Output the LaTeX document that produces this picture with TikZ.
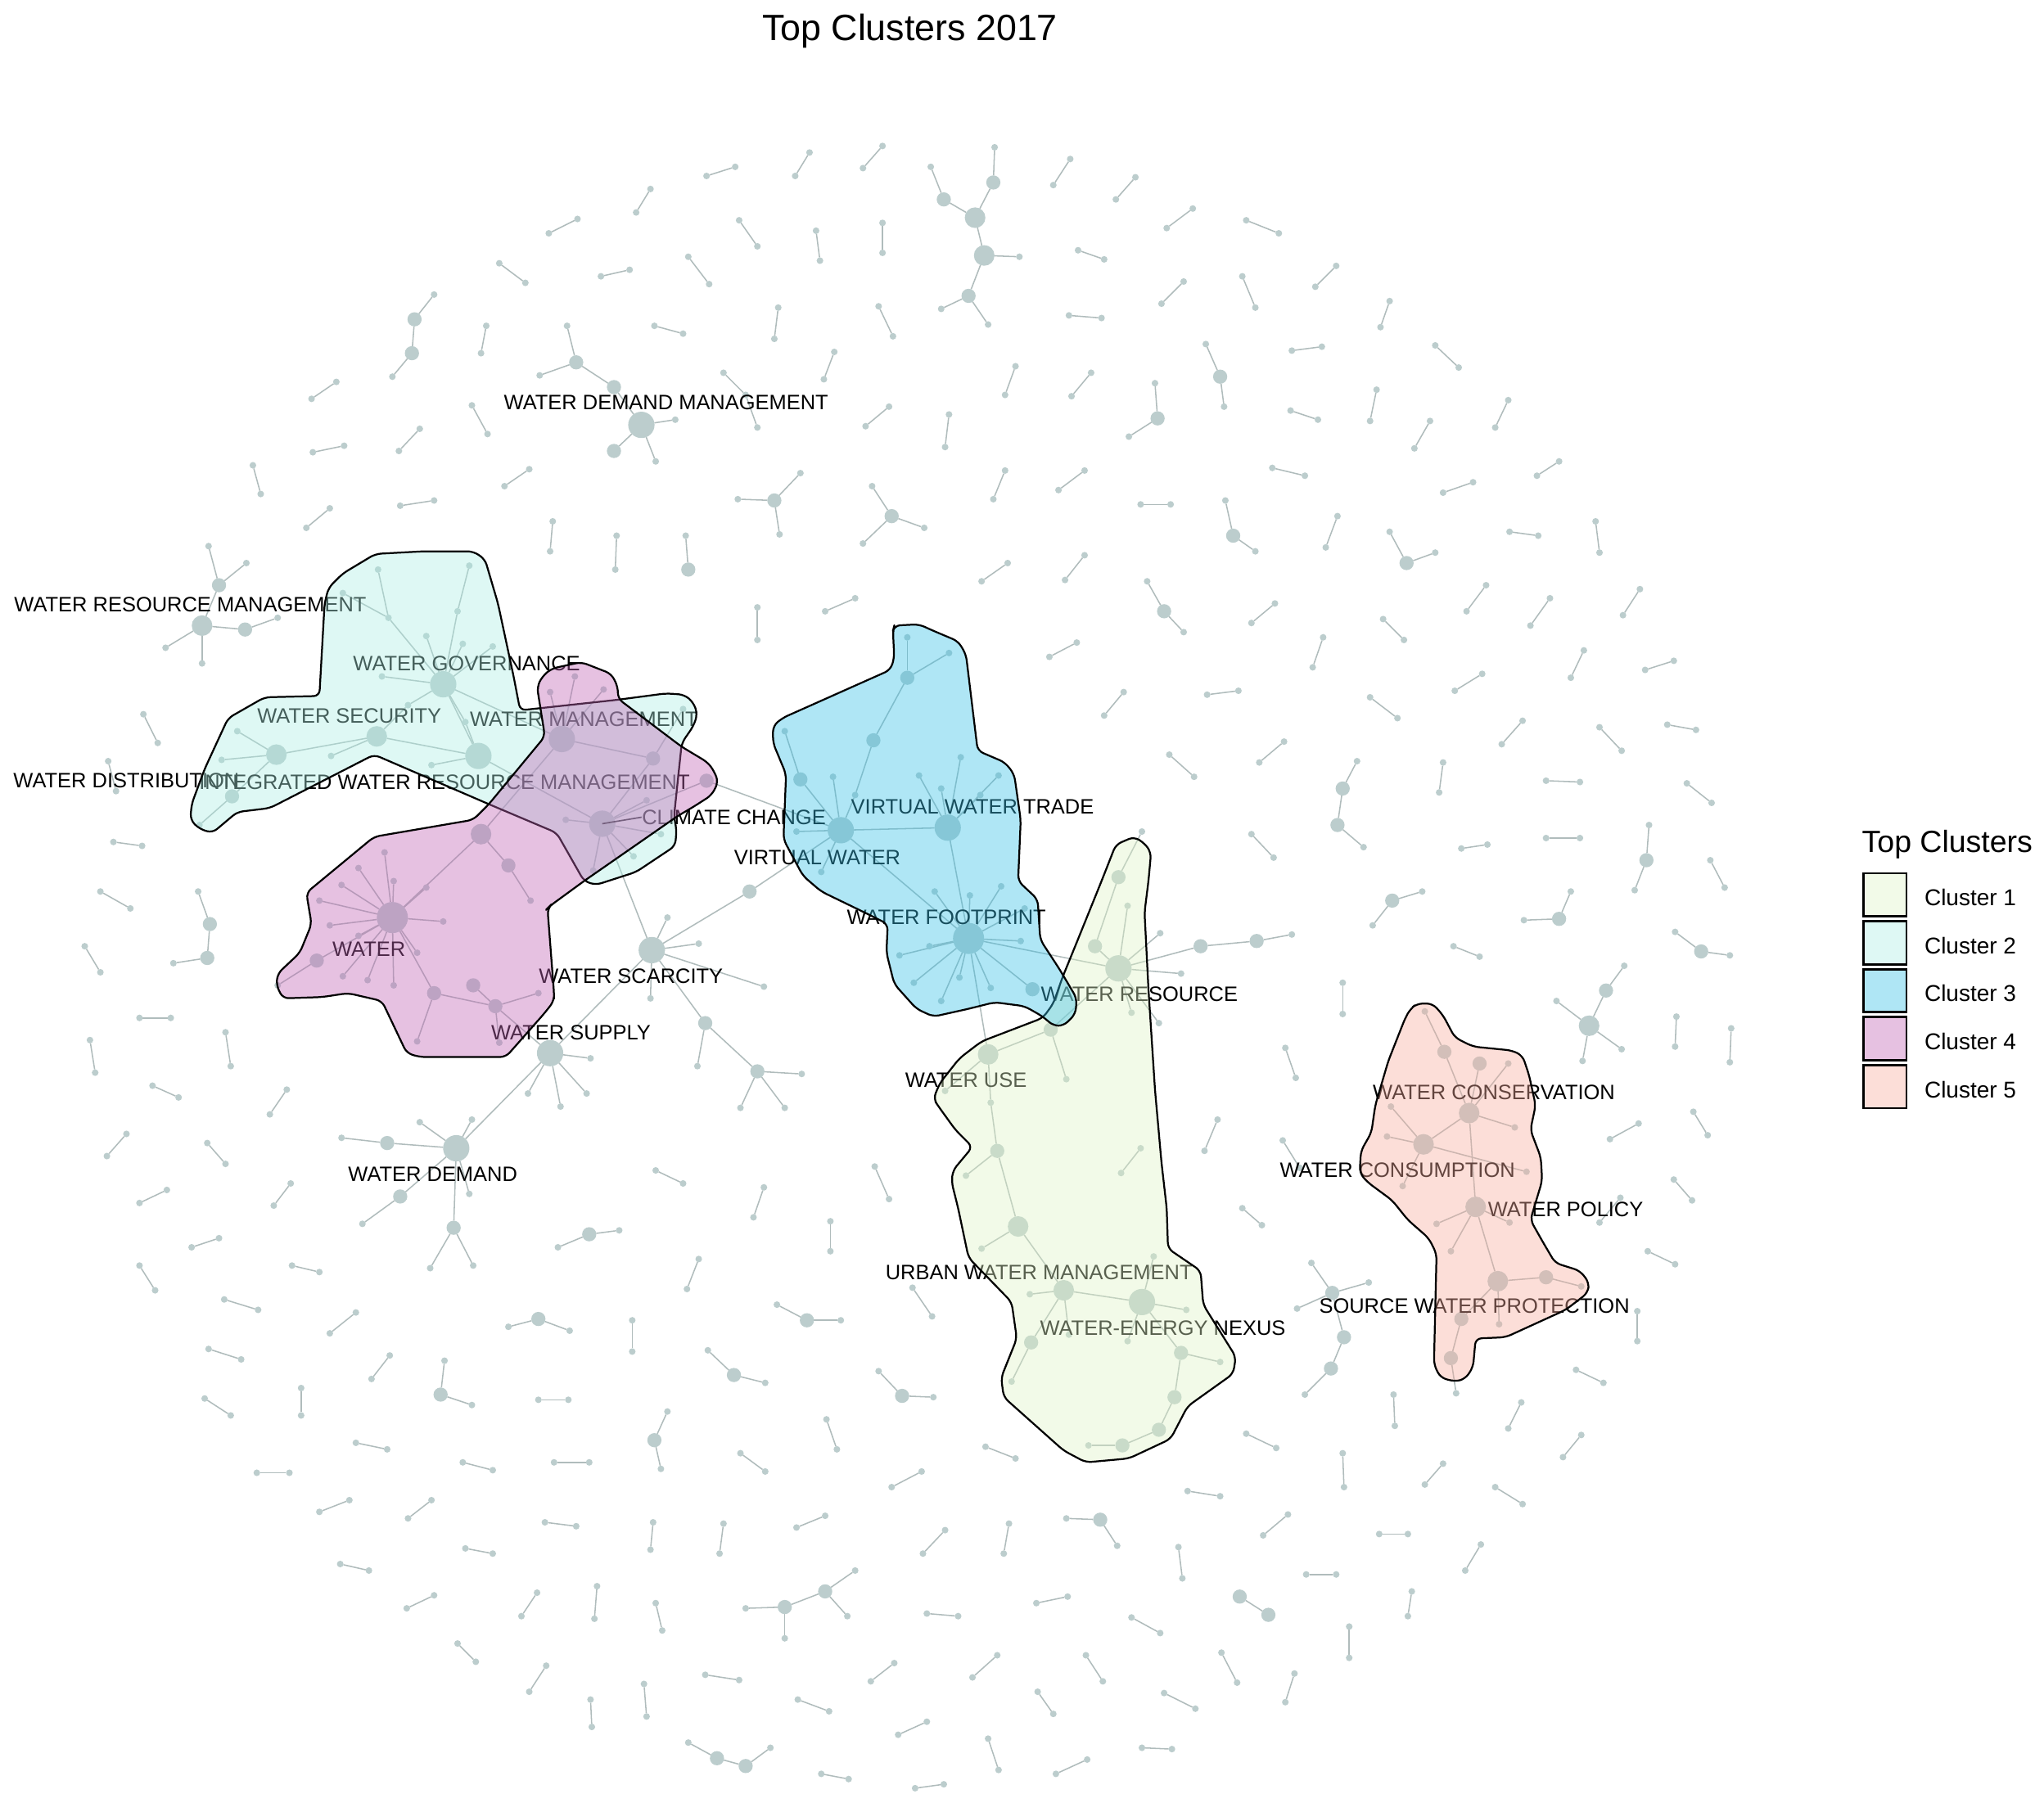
\documentclass[tikz,border=0pt]{standalone}
\usepackage{fontspec}
\setmainfont{Liberation Sans}
\pgfdeclarelayer{edgelayer}
\pgfdeclarelayer{hulllayer}
\pgfsetlayers{edgelayer,main,hulllayer}
\definecolor{nodegray}{RGB}{188,205,205}
\definecolor{edgegray}{RGB}{176,188,188}
\definecolor{hA}{RGB}{222,242,197}
\definecolor{hB}{RGB}{172,237,227}
\definecolor{hC}{RGB}{55,192,230}
\definecolor{hD}{RGB}{192,100,180}
\definecolor{hE}{RGB}{247,172,157}
\def\szS{2.9pt}\def\szM{6.2pt}\def\szL{9pt}\def\szX{11.5pt}\def\szH{13.6pt}
\begin{document}
\begin{tikzpicture}[x=0.02cm,y=-0.02cm,
  nd/.style={circle, fill=nodegray, inner sep=0pt, outer sep=0pt},
  ed/.style={draw=edgegray, line width=0.55pt},
  lbl/.style={font=\fontsize{9.1}{10}\selectfont, inner sep=0pt, text=black},
  hull/.style={draw=black, line width=0.8pt, fill opacity=0.4, rounded corners=2.5pt, line join=round},
  legbox/.style={draw=black, line width=1pt, fill opacity=0.4, minimum width=0.66cm, minimum height=0.66cm, inner sep=0pt},
  legtext/.style={font=\fontsize{10}{12}\selectfont, inner sep=0pt, anchor=base west}]
\useasboundingbox (0,0) rectangle (1568,1390);

% ---------- isolated dyads ----------
\foreach \i/\ax/\ay/\bx/\by in {
1/499/145/488/163, 2/443/168/421/179, 3/383/202/403/217, 4/483/207/461/212,
5/373/250/369/271, 6/258/293/239/306, 7/502/250/524/256, 8/362/311/374/333,
9/322/329/306/346, 10/264/342/240/347, 11/194/357/200/379, 12/406/360/387/373,
13/333/384/307/388, 14/253/390/235/405, 15/424/400/422/423, 16/473/411/472/437,
17/564/128/542/135, 18/621/117/610/135, 19/677/112/662/129, 20/821/122/808/142,
21/871/136/856/153, 22/915/160/895/175, 23/956/169/981/179, 24/1025/204/1009/220,
25/567/169/581/189, 26/626/177/629/200, 27/677/171/677/194, 28/827/192/847/199,
29/908/216/891/233, 30/953/212/963/236, 31/528/197/544/218, 32/597/236/594/260,
33/674/235/685/258, 34/820/242/845/244, 35/1014/266/991/269, 36/779/281/771/303,
37/837/286/822/304, 38/990/315/1011/322, 39/640/270/632/291, 40/682/312/664/327,
41/728/318/725/343, 42/976/359/1001/365, 43/771/361/762/383, 44/832/361/812/376,
45/875/387/898/387, 46/1026/396/1017/420, 47/773/432/753/446, 48/832/426/817/445,
49/656/459/633/469, 50/1066/231/1059/251, 51/1101/265/1119/282, 52/1056/299/1051/323,
53/1097/323/1085/344, 54/1157/307/1147/328, 55/1196/354/1179/365, 56/1130/370/1107/378,
57/1158/408/1180/411, 58/1224/400/1227/424, 59/1140/449/1125/469, 60/1189/459/1174/480,
61/1258/452/1245/472, 62/110/548/121/570, 63/83/584/89/607, 64/87/646/109/649,
65/77/684/100/697, 66/65/726/77/746, 67/107/781/131/781, 68/69/798/73/823,
69/173/792/177/818, 70/117/833/137/842, 71/220/836/207/855, 72/97/870/82/887,
73/159/877/173/893, 74/223/908/210/925, 75/128/913/107/923, 76/503/898/524/908,
77/168/950/147/957, 78/107/971/119/990, 79/224/971/245/976, 80/172/997/198/1005,
81/273/1007/253/1023, 82/485/1013/485/1037, 83/160/1035/185/1043, 84/299/1040/285/1058,
85/157/1073/177/1086, 86/231/1065/231/1086, 87/413/1074/436/1074, 88/273/1107/297/1112,
89/197/1130/222/1130, 90/355/1122/378/1128, 91/425/1122/452/1122, 92/268/1151/245/1160,
93/331/1151/313/1165, 94/418/1168/442/1171, 95/501/1168/499/1189, 96/357/1188/378/1192,
97/261/1200/283/1205, 98/333/1224/312/1234, 99/412/1222/400/1240, 100/458/1217/456/1242,
101/503/1230/508/1251, 102/351/1261/365/1275, 103/419/1278/406/1298, 104/453/1304/454/1325,
105/494/1292/496/1317, 106/586/911/578/934, 107/637/937/637/960, 108/536/966/527/989,
109/700/988/715/1010, 110/634/1089/642/1112, 111/568/1115/587/1129, 112/756/1110/779/1119,
113/707/1129/684/1141, 114/956/1100/979/1111, 115/1030/1115/1031/1141, 116/911/1144/936/1148,
117/633/1163/611/1172, 118/555/1169/552/1192, 119/725/1174/708/1192, 120/774/1169/770/1192,
121/988/1162/969/1178, 122/904/1187/907/1211, 123/1002/1208/1025/1208, 124/711/1238/735/1240,
125/819/1225/795/1230, 127/868/1241/890/1253, 128/1035/1248/1035/1272, 129/541/1285/567/1289,
130/686/1276/668/1290, 131/765/1270/746/1287, 132/833/1270/846/1290, 133/937/1268/949/1291,
134/993/1284/986/1306, 135/612/1304/636/1313, 136/796/1298/808/1315, 137/893/1299/917/1311,
138/711/1321/689/1331, 139/758/1334/766/1358, 140/876/1341/899/1342, 141/834/1350/810/1361,
142/630/1361/651/1365, 143/724/1369/702/1372, 144/953/927/968/940, 145/978/463/960/478,
146/826/493/805/504, 147/1015/489/1007/512, 148/950/530/926/533, 149/862/531/847/549,
150/985/569/966/585, 151/897/579/916/596, 152/960/640/977/658, 153/1030/754/1030/778,
154/986/804/994/827, 155/934/859/924/883, 156/875/881/860/900, 157/984/875/997/896,
158/671/895/682/920, 159/581/466/581/491, 160/1061/475/1077/491, 161/1215/499/1205/520,
162/1284/507/1262/514, 163/1137/517/1116/530, 164/1051/535/1072/551, 165/1168/553/1152/571,
166/1227/558/1244/576, 167/1279/556/1301/560, 168/1107/585/1104/608, 169/1186/599/1212/600,
170/1294/601/1313/616, 171/1141/648/1121/651, 172/1186/643/1212/643, 173/1312/660/1323/681,
174/1115/726/1135/734, 175/1286/780/1285/803, 176/1328/789/1327/815, 177/1257/862/1235/874,
178/1299/853/1310/871, 179/1284/905/1298/921, 180/1264/960/1285/970, 181/1256/1006/1256/1029,
182/1209/1051/1230/1061, 183/1069/1070/1070/1094, 184/1167/1076/1157/1096, 185/1213/1101/1199/1118,
186/1107/1123/1093/1139, 187/1147/1141/1168/1154, 188/1058/1177/1080/1177, 189/1136/1185/1124/1205,
190/1083/1221/1080/1240, 191/1243/919/1227/938}{
  \node[nd, minimum size=\szS] (da\i) at (\ax,\ay) {};
  \node[nd, minimum size=\szS] (db\i) at (\bx,\by) {};
  \begin{pgfonlayer}{edgelayer}\draw[ed] (da\i) -- (db\i);\end{pgfonlayer}
}

% ---------- all other nodes ----------
\foreach \n/\s/\x/\y in {
q1/\szS/333/226, q2/\szM/318/245, q3/\szM/316/271, q4/\szS/301/289,
w1/\szM/442/278, w2/\szS/435/250, w3/\szS/414/288, w4/\szM/471/297, wdm/\szX/492/326, w5/\szM/471/346, w6/\szS/503/354, w7/\szS/518/322,
r1/\szS/555/286, r2/\szS/572/303, r3/\szS/581/328,
t1/\szS/763/113, t2/\szM/762/140, t3/\szL/748/167, t4/\szM/724/153, t5/\szS/714/128, t6/\szL/755/196, t7/\szS/782/197, t8/\szM/743/227, t9/\szS/722/237, t10/\szS/758/249,
u1/\szS/925/264, u2/\szM/936/289, u3/\szS/939/312, u4/\szS/886/294, u5/\szM/888/321, u6/\szS/866/335,
u7/\szS/940/384, u8/\szM/946/411, u9/\szS/963/423, u10/\szS/880/446, u11/\szM/893/469, u12/\szS/908/485,
u13/\szS/1066/408, u14/\szM/1079/432, u15/\szS/1101/424,
v1/\szM/594/384, v2/\szS/566/383, v3/\szS/614/363, v4/\szS/598/410,
v5/\szM/684/396, v6/\szS/669/373, v7/\szS/709/405, v8/\szS/662/417, v9/\szS/526/411, v10/\szM/528/437,
k1/\szS/160/419, k2/\szM/168/449, k3/\szS/189/432, wrm/\szL/155/480, k4/\szM/188/483, k5/\szS/127/497, k6/\szS/155/509, k7/\szS/213/474,
k8/\szS/152/684, k9/\szM/161/709, k10/\szM/159/735, k11/\szS/133/739,
ws/\szX/500/729, h1/\szS/512/704, h2/\szS/536/724, h3/\szS/586/757, h4/\szM/541/785, h5/\szS/499/766, h6/\szM/575/684,
h7/\szS/535/818, h8/\szM/581/822, h9/\szS/615/824, h10/\szS/602/850, h11/\szS/568/850,
wsup/\szX/422/808, h12/\szS/453/812, h13/\szS/450/839, h14/\szS/430/849, h15/\szS/405/839,
wd/\szX/350/881, h16/\szM/297/877, h17/\szS/262/873, h18/\szS/322/861, h19/\szS/362/859, h20/\szS/360/916, h21/\szM/307/918, h22/\szS/278/939, h23/\szM/348/942, h24/\szS/330/973, h25/\szS/363/971,
j1/\szM/452/947, j2/\szS/475/944, j3/\szS/428/957, j4/\szM/413/1012, j5/\szS/390/1018, j6/\szS/437/1021,
j7/\szS/341/1044, j8/\szM/338/1070, j9/\szS/362/1078, j10/\szS/512/1083, j11/\szM/502/1105, j12/\szS/507/1127,
j13/\szS/596/1001, j14/\szM/619/1013, j15/\szS/645/1013, j16/\szS/543/1036, j17/\szM/563/1055, j18/\szS/587/1061,
j19/\szS/674/1052, j20/\szM/692/1071, j21/\szS/716/1072, j22/\szS/818/1165, j23/\szM/844/1166, j24/\szS/857/1186,
j25/\szS/656/1205, j26/\szM/633/1221, j27/\szM/602/1233, j28/\szS/572/1234, j29/\szS/602/1257, j30/\szS/650/1240,
j31/\szS/528/1337, j32/\szM/550/1349, j33/\szM/572/1355, j34/\szS/591/1341,
y1/\szS/1006/969, y2/\szM/1022/992, y3/\szS/1050/984, y4/\szS/995/1004, y5/\szM/1031/1026, y6/\szM/1021/1050, y7/\szS/1001/1070,
y8/\szS/1041/584, y9/\szM/1030/605, y10/\szM/1026/633, y11/\szS/1046/650,
y12/\szS/1091/684, y13/\szM/1068/691, y14/\szS/1053/710, y15/\szS/1205/684, y16/\szM/1196/705, y17/\szS/1169/706,
y18/\szS/1285/715, y19/\szM/1305/730, y20/\szS/1327/733,
y21/\szS/1246/741, y22/\szM/1232/760, y23/\szL/1219/787, y24/\szS/1194/768, y25/\szS/1244/805, y26/\szS/1214/814,
y27/\szS/1265/633, y28/\szM/1263/660, y29/\szS/1254/683, y30/\szM/951/1225, y31/\szM/973/1239,
g1/\szS/290/437, g2/\szS/360/434, g3/\szS/263/455, g4/\szS/298/474, g5/\szS/351/469, g6/\szS/327/488, g7/\szS/355/494, g8/\szS/378/496,
gov/\szX/340/525, g9/\szS/293/519, sec/\szL/289/565, g10/\szL/212/579, g11/\szX/367/580, g12/\szS/182/561, g13/\szS/170/583,
g14/\szM/178/611, g15/\szS/153/633, g16/\szS/254/580, g17/\szS/331/587, g18/\szS/313/541, g19/\szS/357/554, g20/\szS/524/544,
m1/\szS/422/531, m2/\szS/441/519, m3/\szS/463/529, wm/\szX/431/567, m4/\szM/501/582, iwrm/\szX/462/632, m5/\szS/434/629,
m6/\szS/496/614, m7/\szS/455/668, m8/\szS/486/657, m9/\szS/507/640, m10/\szM/542/599, m11/\szL/369/640, m12/\szM/390/664,
m13/\szS/407/691, water/\szH/301/704, m14/\szS/295/654, m15/\szS/275/666, m16/\szS/262/679, m17/\szS/245/691, m18/\szS/253/710,
m19/\szS/340/707, m20/\szS/320/731, m21/\szS/302/756, m22/\szS/282/752, m23/\szS/263/749, m24/\szM/243/737, m25/\szS/213/756,
m26/\szS/275/718, m27/\szS/302/676, m28/\szM/333/762, m29/\szM/363/756, m30/\szM/380/772, m31/\szS/413/762, m32/\szS/383/800,
m33/\szS/320/799, m34/\szS/327/681,
b1/\szS/696/489, b2/\szS/728/501, b3/\szM/696/520, b4/\szM/670/568, b5/\szS/602/561, b6/\szM/614/598, b7/\szS/639/596,
b8/\szS/656/610, vw/\szX/645/637, b9/\szS/611/638, b10/\szS/705/595, b11/\szS/722/605, b12/\szS/737/581, b13/\szS/766/595,
b14/\szS/752/610, vwt/\szX/727/635, b15/\szS/630/669, wf/\szH/743/720, b16/\szS/717/684, b17/\szS/744/687, b18/\szS/768/680,
b19/\szS/783/722, b20/\szS/713/726, b21/\szS/690/733, b22/\szS/701/754, b23/\szS/722/768, b24/\szS/736/750, b25/\szS/760/758,
b26/\szM/792/759, b27/\szS/786/697,
e1/\szS/876/638, e2/\szM/858/673, e3/\szS/865/695, e4/\szM/840/726, wr/\szX/858/743, e5/\szS/890/716, e6/\szS/906/747,
e7/\szM/921/726, e8/\szM/964/722, e9/\szS/991/717, e10/\szS/868/777, e11/\szS/889/785, e12/\szM/806/790, e13/\szS/818/828,
wu/\szL/758/809, e14/\szS/725/837, e15/\szS/760/846, e16/\szM/765/883, e17/\szS/741/902, e18/\szL/781/941, e19/\szS/753/958,
uwm/\szL/816/990, e20/\szS/790/993, wen/\szX/876/999, e21/\szS/910/1005, e22/\szS/885/964, e23/\szS/820/1024, e24/\szM/791/1030,
e25/\szS/776/1060, e26/\szS/865/1029, e27/\szM/906/1038, e28/\szS/936/1045, e29/\szM/901/1072, e30/\szM/889/1097,
e31/\szM/861/1109, e32/\szS/835/1109,
p1/\szS/1093/776, p2/\szM/1108/807, p3/\szM/1135/816, p4/\szS/1157/816, wc/\szL/1127/854, p5/\szS/1067/849, p6/\szS/1162/865,
wcons/\szL/1092/878, p7/\szS/1064/872, p8/\szS/1076/910, p9/\szS/1171/899, wp/\szL/1132/926, p10/\szS/1102/939, p11/\szS/1158/938,
p12/\szS/1113/960, swp/\szL/1149/983, p13/\szM/1186/980, p14/\szS/1213/987, p15/\szM/1121/1012, p16/\szS/1150/1016,
p17/\szM/1113/1042, p18/\szS/1117/1069}{
  \node[nd, minimum size=\s] (\n) at (\x,\y) {};
}

% ---------- edges ----------
\begin{pgfonlayer}{edgelayer}
\foreach \a/\b in {
q1/q2, q2/q3, q3/q4,
w1/w2, w1/w3, w1/w4, w4/wdm, wdm/w5, wdm/w6, wdm/w7, r1/r2, r2/r3,
t1/t2, t2/t3, t3/t4, t4/t5, t3/t6, t6/t7, t6/t8, t8/t9, t8/t10,
u1/u2, u2/u3, u4/u5, u5/u6, u7/u8, u8/u9, u10/u11, u11/u12, u13/u14, u14/u15,
v1/v2, v1/v3, v1/v4, v5/v6, v5/v7, v5/v8, v9/v10,
k1/k2, k2/k3, k2/wrm, wrm/k4, k4/k7, wrm/k5, wrm/k6, k8/k9, k9/k10, k10/k11,
ws/h1, ws/h2, ws/h3, ws/h4, ws/h5, ws/h6, h6/vw, h4/h7, h4/h8, h8/h9, h8/h10, h8/h11, ws/iwrm, ws/wsup,
wsup/h12, wsup/h13, wsup/h14, wsup/h15, wsup/m30, wsup/wd,
wd/h16, h16/h17, wd/h18, wd/h19, wd/h20, wd/h21, h21/h22, wd/h23, h23/h24, h23/h25,
j1/j2, j1/j3, j4/j5, j4/j6, j7/j8, j8/j9, j10/j11, j11/j12, j13/j14, j14/j15, j16/j17, j17/j18,
j19/j20, j20/j21, j22/j23, j23/j24, j25/j26, j26/j27, j27/j28, j27/j29, j26/j30, j31/j32, j32/j33, j33/j34,
y1/y2, y2/y3, y2/y4, y2/y5, y5/y6, y6/y7, y8/y9, y9/y10, y10/y11, y12/y13, y13/y14, y15/y16, y16/y17,
y18/y19, y19/y20, y21/y22, y22/y23, y24/y23, y23/y25, y23/y26, y27/y28, y28/y29, y30/y31,
g1/g4, g3/g4, g4/gov, g2/g5, g5/gov, g6/gov, g7/gov, g8/gov, g9/gov, gov/g18, g18/sec, gov/g19, g19/g11,
gov/g11, gov/wm, sec/g10, sec/g16, sec/g11, g11/g17, g10/g12, g10/g13, g10/g14, g14/g15, g11/iwrm, m4/g20,
wm/m1, wm/m2, wm/m3, wm/m4, m4/iwrm, wm/m11, iwrm/m5, iwrm/m6, iwrm/m7, iwrm/m8, iwrm/m9, iwrm/m10, m10/vw,
m11/m12, m12/m13, m11/water, water/m14, water/m15, water/m16, water/m17, water/m18, water/m19, water/m20,
water/m21, water/m22, water/m23, water/m24, m24/m25, water/m26, water/m27, water/m34, water/m28,
m28/m30, m29/m30, m30/m31, m30/m32, m28/m33,
b1/b3, b2/b3, b3/b4, b4/b8, b8/vw, b5/b6, b6/vw, b7/vw, b9/vw, vw/vwt, vwt/b10, vwt/b11, vwt/b12, vwt/b13,
vwt/b14, vwt/wf, vw/wf, vw/b15, wf/b16, wf/b17, wf/b18, wf/b19, wf/b20, wf/b21, wf/b22, wf/b23, wf/b24,
wf/b25, wf/b26, wf/b27, wf/wr, wf/wu,
e1/e2, e2/e4, e4/wr, e3/wr, wr/e5, wr/e6, wr/e7, e7/e8, e8/e9, wr/e10, wr/e11, wr/e12, e12/wu, e12/e13,
wu/e14, wu/e15, e15/e16, e16/e17, e16/e18, e18/e19, e18/uwm, uwm/e20, uwm/wen, uwm/e23, uwm/e24, e24/e25,
wen/e21, wen/e22, wen/e26, wen/e27, e27/e28, e27/e29, e29/e30, e30/e31, e31/e32,
p1/p2, p2/wc, p3/wc, p4/wc, wc/p6, wc/wcons, p5/wcons, wcons/p7, wcons/p8, wcons/p9, wc/wp, wp/p10, wp/p11,
wp/p12, wp/swp, swp/p13, p13/p14, swp/p15, p15/p17, p17/p18, swp/p16}{
  \draw[ed] (\a) -- (\b);
}
\end{pgfonlayer}

% ---------- labels ----------
\node[lbl] (lwdm) at (511,309) {WATER DEMAND MANAGEMENT};
\node[lbl] (lwrm) at (146,464) {WATER RESOURCE MANAGEMENT};
\node[lbl] (lgov) at (358,509) {WATER GOVERNANCE};
\node[lbl] (lsec) at (268,549) {WATER SECURITY};
\node[lbl] (lwm) at (448,552) {WATER MANAGEMENT};
\node[lbl, anchor=west] (ldist) at (10,599) {WATER DISTRIBUTION};
\node[lbl] (liwrm) at (341,600) {INTEGRATED WATER RESOURCE MANAGEMENT};
\node[lbl] (lcc) at (563,627) {CLIMATE CHANGE};
\node[lbl] (lvwt) at (746,619) {VIRTUAL WATER TRADE};
\node[lbl] (lvw) at (627,658) {VIRTUAL WATER};
\node[lbl] (lwf) at (726,704) {WATER FOOTPRINT};
\node[lbl] (lwater) at (283,728) {WATER};
\node[lbl] (lws) at (484,749) {WATER SCARCITY};
\node[lbl] (lwr) at (874,763) {WATER RESOURCE};
\node[lbl] (lwsup) at (438,792) {WATER SUPPLY};
\node[lbl] (lwu) at (741,829) {WATER USE};
\node[lbl] (lwc) at (1146,838) {WATER CONSERVATION};
\node[lbl] (lwcons) at (1072,898) {WATER CONSUMPTION};
\node[lbl] (lwd) at (332,901) {WATER DEMAND};
\node[lbl] (lwp) at (1201,928) {WATER POLICY};
\node[lbl] (luwm) at (797,976) {URBAN WATER MANAGEMENT};
\node[lbl] (lswp) at (1131,1002) {SOURCE WATER PROTECTION};
\node[lbl] (lwen) at (892,1019) {WATER-ENERGY NEXUS};
\draw[line width=0.6pt] (iwrm.center) -- (lcc.west);

% ---------- cluster hulls ----------
\begin{pgfonlayer}{hulllayer}
\draw[hull, fill=hA] (870,642) -- (878,647) -- (883,654) -- (881,676) -- (878,700) -- (881,759) -- (886,836) -- (891,892) -- (895,927) -- (896,958) -- (921,975) -- (923,1001) -- (948,1041) -- (946,1054) -- (911,1079) -- (898,1104) -- (866,1119) -- (833,1122) -- (816,1113) -- (770,1072) -- (768,1057) -- (780,1027) -- (776,999) -- (743,965) -- (735,927) -- (730,907) -- (731,898) -- (746,880) -- (733,867) -- (720,849) -- (716,843) -- (721,831) -- (736,812) -- (753,799) -- (800,781) -- (808,770) -- (815,750) -- (826,723) -- (845,676) -- (856,648) -- cycle;
\draw[hull, fill=hB] (288,425) -- (325,423) -- (363,423) -- (372,429) -- (382,463) -- (394,519) -- (399,545) -- (473,537) -- (511,532) -- (525,533) -- (532,539) -- (535,548) -- (532,557) -- (523,570) -- (517,627) -- (519,636) -- (518,649) -- (488,669) -- (457,679) -- (448,676) -- (427,639) -- (375,617) -- (287,579) -- (207,620) -- (182,623) -- (163,639) -- (153,636) -- (146,629) -- (147,617) -- (157,590) -- (175,551) -- (203,535) -- (245,534) -- (249,463) -- (252,451) -- (263,440) -- cycle;
\draw[hull, fill=hD] (416,519) -- (423,513) -- (446,508) -- (469,517) -- (474,527) -- (474,536) -- (523,573) -- (543,585) -- (548,592) -- (551,600) -- (546,610) -- (532,619) -- (520,626) -- (448,676) -- (422,695) -- (420,697) -- (425,762) -- (425,768) -- (418,777) -- (388,811) -- (322,811) -- (312,808) -- (293,768) -- (267,762) -- (247,765) -- (217,766) -- (212,756) -- (213,747) -- (230,731) -- (239,709) -- (235,685) -- (287,642) -- (363,629) -- (375,617) -- (418,565) -- (412,527) -- cycle;
\draw[hull, fill=hC] (686,480) -- (705,479) -- (716,484) -- (735,492) -- (741,502) -- (750,576) -- (771,585) -- (778,594) -- (783,629) -- (781,676) -- (796,690) -- (798,721) -- (813,744) -- (826,766) -- (825,778) -- (816,787) -- (808,787) -- (800,780) -- (786,772) -- (763,769) -- (743,774) -- (716,780) -- (703,774) -- (686,755) -- (680,731) -- (681,709) -- (663,700) -- (630,684) -- (616,672) -- (601,644) -- (603,594) -- (593,570) -- (593,557) -- (600,551) -- (683,514) -- (686,505) -- (685,484) -- cycle;
\draw[hull, fill=hE] (1087,770) -- (1099,770) -- (1107,779) -- (1116,796) -- (1130,803) -- (1160,806) -- (1168,810) -- (1173,825) -- (1178,848) -- (1174,867) -- (1182,888) -- (1183,906) -- (1174,936) -- (1183,952) -- (1193,969) -- (1212,975) -- (1219,984) -- (1218,992) -- (1201,1005) -- (1155,1026) -- (1132,1027) -- (1130,1049) -- (1124,1058) -- (1116,1060) -- (1105,1057) -- (1100,1047) -- (1102,962) -- (1096,950) -- (1080,936) -- (1068,921) -- (1049,907) -- (1043,900) -- (1044,883) -- (1052,869) -- (1055,848) -- (1065,814) -- (1078,781) -- (1082,774) -- cycle;
\end{pgfonlayer}

% ---------- title and legend ----------
\node[font=\fontsize{16}{19}\selectfont, inner sep=0pt, anchor=base] (title) at (698,31) {Top Clusters 2017};
\node[font=\fontsize{13.4}{16}\selectfont, inner sep=0pt, anchor=base west] (legtitle) at (1428,654) {Top Clusters};
\node[legbox, fill=hA] (lb1) at (1446,686.5) {};
\node[legbox, fill=hB] (lb2) at (1446,723.3) {};
\node[legbox, fill=hC] (lb3) at (1446,760.1) {};
\node[legbox, fill=hD] (lb4) at (1446,796.9) {};
\node[legbox, fill=hE] (lb5) at (1446,833.7) {};
\node[legtext] (lt1) at (1476,695) {Cluster 1};
\node[legtext] (lt2) at (1476,731.8) {Cluster 2};
\node[legtext] (lt3) at (1476,768.6) {Cluster 3};
\node[legtext] (lt4) at (1476,805.4) {Cluster 4};
\node[legtext] (lt5) at (1476,842.2) {Cluster 5};
\end{tikzpicture}
\end{document}
